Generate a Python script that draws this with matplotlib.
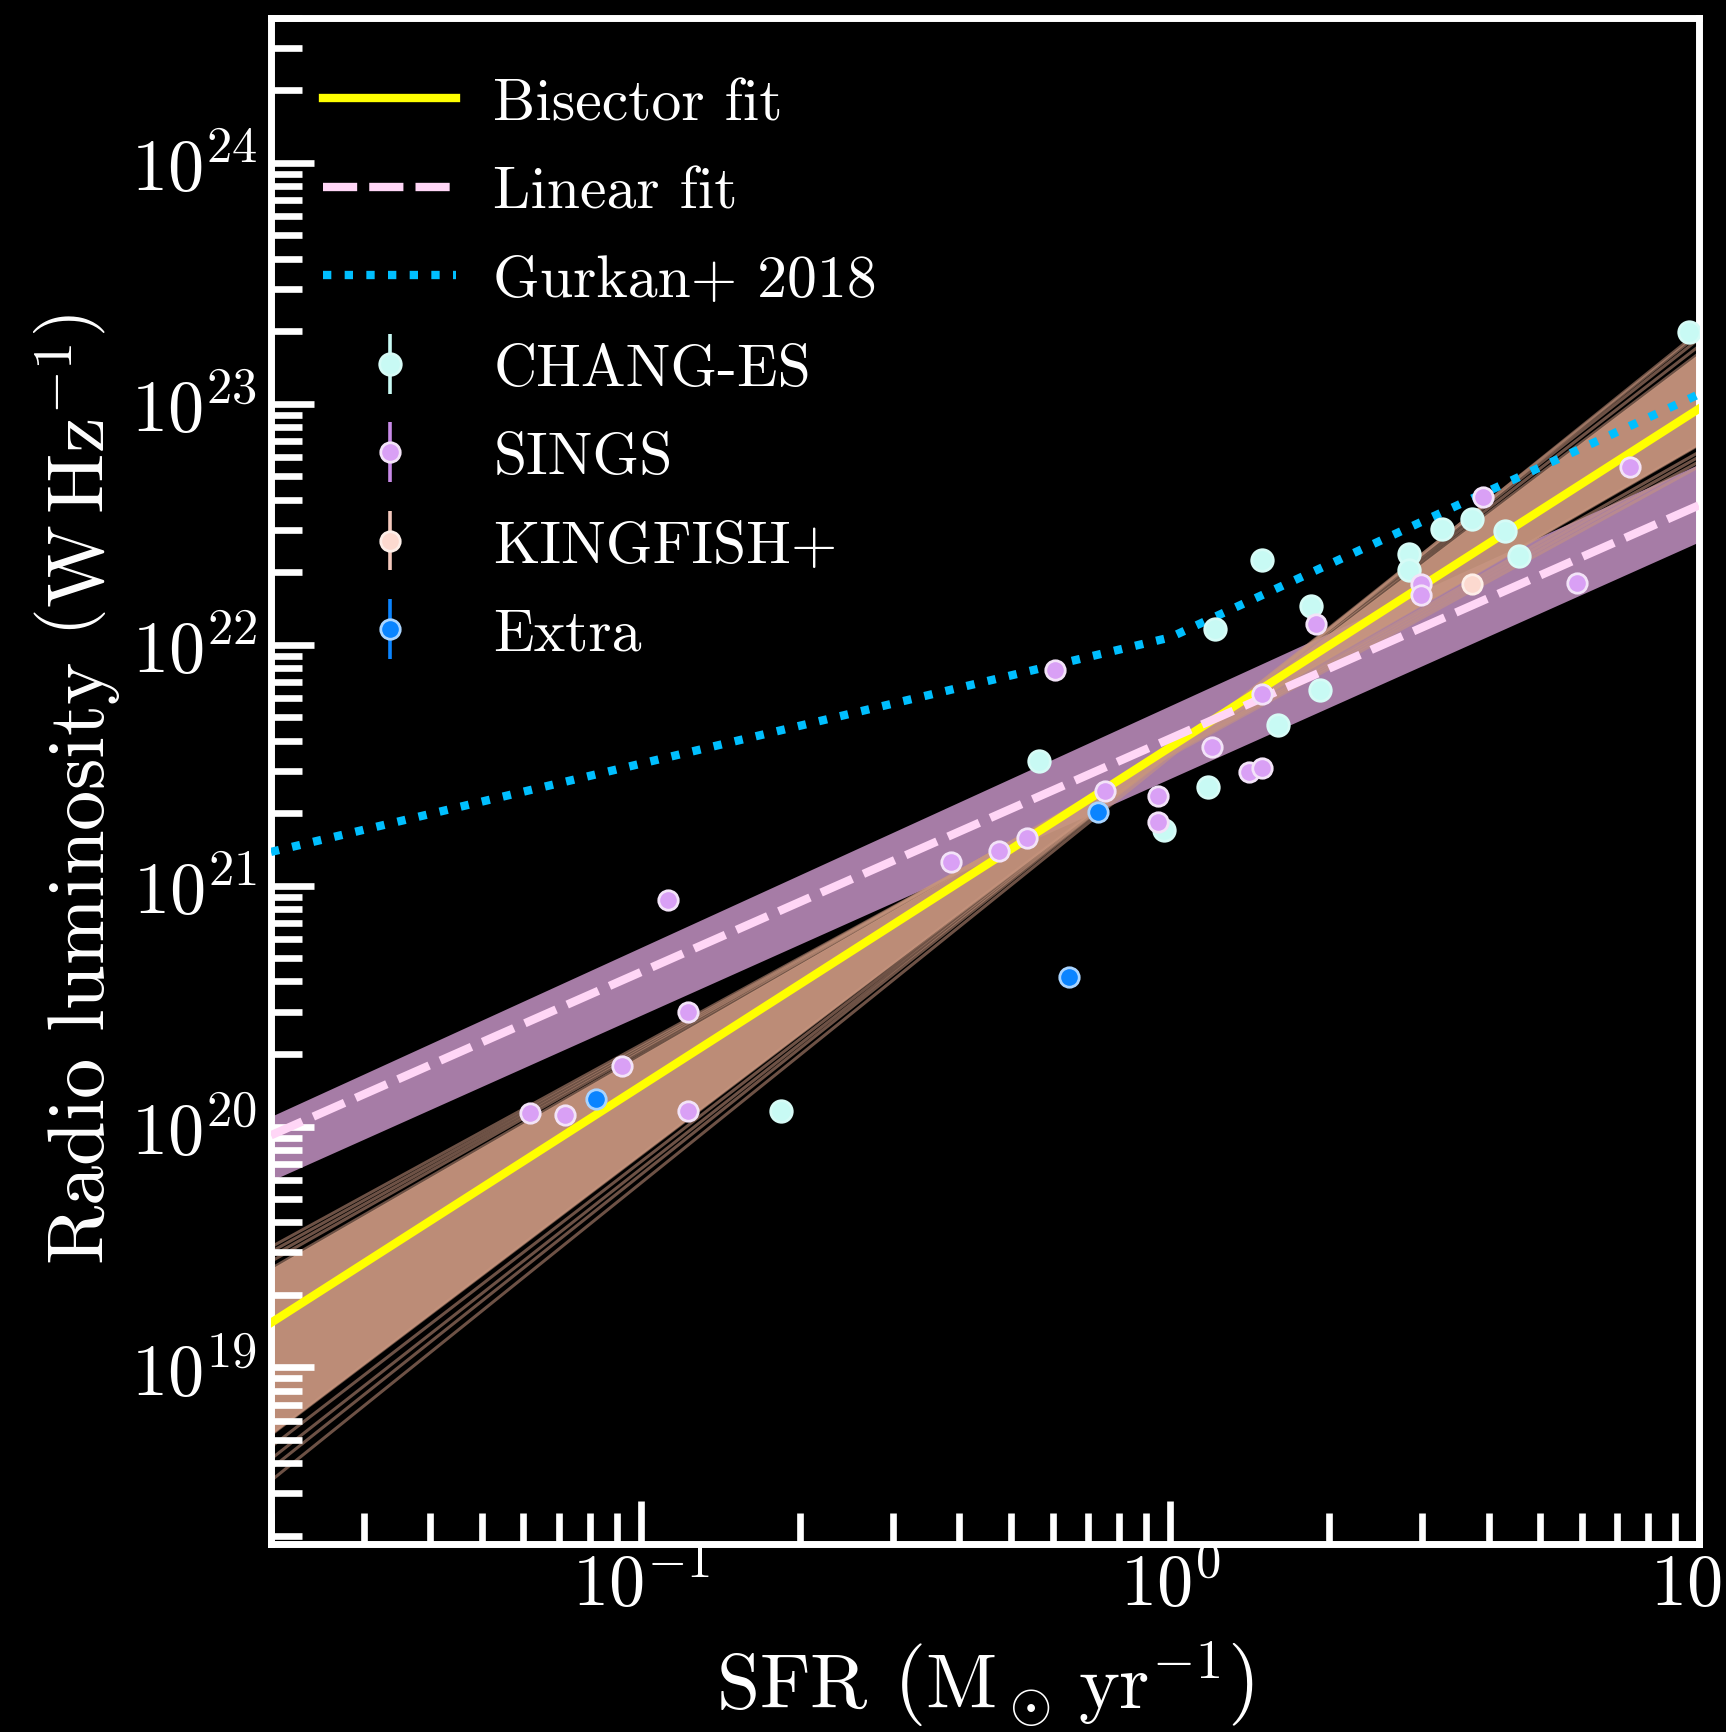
import matplotlib.pyplot as plt
import numpy as np
from matplotlib.ticker import LogLocator, FuncFormatter, NullFormatter

plt.rcParams['font.family'] = ['cmr10', 'DejaVu Serif']
plt.rcParams['mathtext.fontset'] = 'cm'
plt.rcParams['axes.formatter.use_mathtext'] = True

# ---- data ----
chang_sfr = [9.58, 0.565, 0.184, 1.18, 0.976, 1.216, 1.49, 1.85, 1.92, 1.60,
             2.83, 2.83, 3.26, 3.73, 4.30, 4.57]
chang_lum = [1.98e23, 3.28e21, 1.16e20, 2.57e21, 1.70e21, 1.16e22, 2.25e22, 1.45e22,
             6.46e21, 4.66e21, 2.38e22, 2.05e22, 3.03e22, 3.34e22, 2.97e22, 2.33e22]

sings_sfr = [3.91, 7.41, 5.89, 2.98, 2.98, 1.89, 0.606, 1.49, 1.20, 1.41, 1.49, 0.949,
             0.949, 0.755, 0.538, 0.475, 0.385, 0.1127, 0.1228, 0.0922, 0.0618, 0.0720, 0.1228]
sings_lum = [4.12e22, 5.49e22, 1.81e22, 1.79e22, 1.61e22, 1.22e22, 7.82e21, 6.26e21, 3.77e21,
             2.95e21, 3.08e21, 2.36e21, 1.83e21, 2.47e21, 1.58e21, 1.39e21, 1.25e21, 8.73e20,
             3.0e20, 1.78e20, 1.14e20, 1.12e20, 1.16e20]

kingfish_sfr = [3.73]
kingfish_lum = [1.79e22]

extra_sfr = [0.730, 0.0822, 0.645]
extra_lum = [2.02e21, 1.30e20, 4.16e20]

# fits: slope and log10 L at SFR = 1
bisector_slope, bisector_norm = 1.406, 21.574
linear_slope, linear_norm = 0.969, 21.61

gurkan_sfr = [0.02, 1.0, 10.0]
gurkan_loglum = [21.14, 22.03, 23.04]

# linear-fit uncertainty band (log10 L at SFR = 0.02 and 10)
band_sfr = [0.02, 10.0]
band_lo = [19.775, 22.427]
band_hi = [20.042, 22.75]

# bisector bootstrap fan: log10 L at SFR = 0.02 and at SFR = 10
fan_left = [19.50, 19.48, 19.46, 19.44, 19.41, 18.72, 18.67, 18.62, 18.58, 18.53]
fan_right = [22.74, 22.76, 22.78, 22.80, 22.83, 23.21, 23.24, 23.27, 23.29, 23.30]

x_lim = (0.02, 10)
y_lim = (1.85e18, 4e24)

# ---- figure ----
fig = plt.figure(figsize=(17.26, 17.33), dpi=100, facecolor='black')
ax = fig.add_axes([0.157, 0.1085, 0.8274, 0.8806])
ax.set_facecolor('black')
ax.set_xscale('log')
ax.set_yscale('log')
ax.set_axisbelow(False)

lx0, lx1 = np.log10(x_lim[0]), np.log10(x_lim[1])
grid = np.linspace(lx0, lx1, 400)

# purple band
ax.fill_between(band_sfr, 10**np.array(band_lo), 10**np.array(band_hi),
                color='#a67ca6', lw=0, zorder=1)

# brown fan
fan_vals = [fl + (fr - fl) * (grid - lx0) / (lx1 - lx0) for fl, fr in zip(fan_left, fan_right)]
core = np.array(fan_vals[4:6])
ax.fill_between(10**grid, 10**core.min(axis=0), 10**core.max(axis=0),
                color='#c7957e', lw=0, alpha=0.95, zorder=2)
for fl, fr in zip(fan_left, fan_right):
    ax.plot(x_lim, [10**fl, 10**fr], color='#c7957e', lw=2.2, alpha=0.55, zorder=2)

# fit lines
fit_x = np.array(x_lim)
l_bis, = ax.plot(fit_x, 10**(bisector_norm + bisector_slope * np.log10(fit_x)),
                 color='#ffff00', lw=6, zorder=4, label='Bisector fit')
l_lin, = ax.plot(fit_x, 10**(linear_norm + linear_slope * np.log10(fit_x)),
                 color='#ffd6f6', lw=6, ls=(0, (4.1, 1.45)), dash_capstyle='butt',
                 zorder=4, label='Linear fit')
l_gur, = ax.plot(gurkan_sfr, 10**np.array(gurkan_loglum), color='#00bfff', lw=6,
                 ls=(0, (1, 1.6)), dash_capstyle='butt', zorder=4, label='Gurkan+ 2018')


# data points
def pts(x, y, face, edge, ecol, ms, label):
    return ax.errorbar(x, y, yerr=np.zeros(len(y)), fmt='o', ms=ms, mfc=face, mec=edge,
                       mew=2.0, ecolor=ecol, elinewidth=2.6, capsize=0, zorder=6,
                       label=label)


e_ch = pts(chang_sfr, chang_lum, '#c8faf4', '#d6fbf6', '#c8faf4', 15.5, 'CHANG-ES')
e_si = pts(sings_sfr, sings_lum, '#d9a0f5', '#f3e3f8', '#c88ae8', 14, 'SINGS')
e_ki = pts(kingfish_sfr, kingfish_lum, '#fcd9cf', '#fdeee8', '#f4c9bd', 14, 'KINGFISH+')
e_ex = pts(extra_sfr, extra_lum, '#0a84ff', '#a9d4ff', '#0a84ff', 14, 'Extra')

ax.set_xlim(*x_lim)
ax.set_ylim(*y_lim)

# ticks
ax.xaxis.set_major_locator(LogLocator(base=10, numticks=20))
ax.xaxis.set_minor_locator(LogLocator(base=10, subs=np.arange(2, 10), numticks=20))
ax.yaxis.set_major_locator(LogLocator(base=10, numticks=20))
ax.yaxis.set_minor_locator(LogLocator(base=10, subs=np.arange(2, 10), numticks=20))
fmt = FuncFormatter(lambda v, p: r'$\mathrm{10^{%d}}$' % int(round(np.log10(v))))
ax.xaxis.set_major_formatter(fmt)
ax.yaxis.set_major_formatter(fmt)
ax.xaxis.set_minor_formatter(NullFormatter())
ax.yaxis.set_minor_formatter(NullFormatter())
ax.tick_params(which='both', direction='in', colors='white', top=False, right=False)
ax.tick_params(which='major', length=31, width=4.8, labelsize=52)
ax.tick_params(which='minor', length=22, width=4.8)
ax.tick_params(axis='x', pad=5)
ax.tick_params(axis='y', pad=10)
for s in ax.spines.values():
    s.set_color('white')
    s.set_linewidth(5)

ax.set_xlabel(r'SFR $\left(\mathrm{M_\odot\,yr^{-1}}\right)$', fontsize=56, color='white')
ax.set_ylabel(r'Radio luminosity $\left(\mathrm{W\,Hz^{-1}}\right)$', fontsize=58, color='white')
ax.xaxis.set_label_coords(0.5, -0.062)
ax.yaxis.set_label_coords(-0.104, 0.495)

leg = ax.legend([l_bis, l_lin, l_gur, e_ch, e_si, e_ki, e_ex],
                ['Bisector fit', 'Linear fit', 'Gurkan+ 2018', 'CHANG-ES', 'SINGS',
                 'KINGFISH+', 'Extra'],
                loc='upper left', bbox_to_anchor=(0.0, 0.995), frameon=False,
                fontsize=43, handlelength=2.23, handletextpad=0.62, labelspacing=0.58,
                borderaxespad=0.47)
for t in leg.get_texts():
    t.set_color('white')

fig.savefig('out.png', dpi=100, facecolor='black')
